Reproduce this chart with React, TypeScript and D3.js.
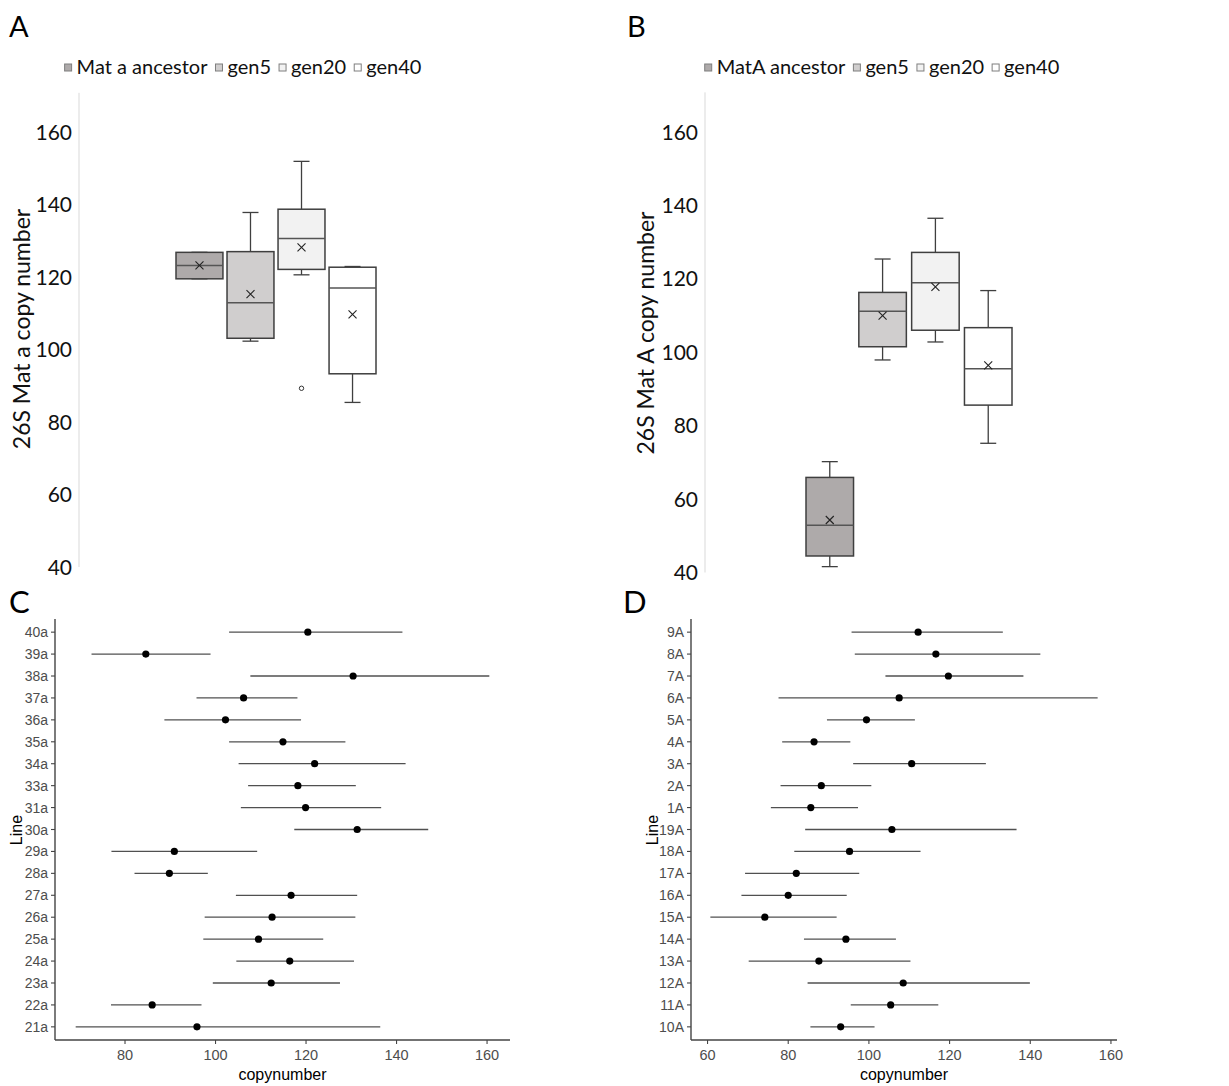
import React, { useEffect, useRef } from 'react';
import * as d3 from 'd3';

// box plot panels (A and B)
const series = ['ancestor', 'gen5', 'gen20', 'gen40'];
const legendA = ['Mat a ancestor', 'gen5', 'gen20', 'gen40'];
const legendB = ['MatA ancestor', 'gen5', 'gen20', 'gen40'];
const fills = ['#aeaaaa', '#d0cece', '#f2f2f2', '#ffffff'];
const boxTicks = [40, 60, 80, 100, 120, 140, 160];

const minA = [119.5, 102.3, 120.6, 85.4];
const q1A = [119.5, 103.1, 122.1, 93.3];
const medA = [123.2, 112.9, 130.6, 117.0];
const q3A = [126.8, 127.0, 138.7, 122.7];
const maxA = [126.8, 137.8, 151.9, 122.9];
const meanA = [123.2, 115.3, 128.2, 109.7];
const outlierA = [null, null, 89.3, null];

const minB = [41.6, 97.9, 102.8, 75.2];
const q1B = [44.5, 101.5, 106.0, 85.6];
const medB = [52.9, 111.2, 118.9, 95.5];
const q3B = [65.9, 116.3, 127.2, 106.7];
const maxB = [70.2, 125.4, 136.5, 116.8];
const meanB = [54.3, 110.0, 117.8, 96.4];
const outlierB = [null, null, null, null];

// point-range panels (C and D)
const linesC = ['40a', '39a', '38a', '37a', '36a', '35a', '34a', '33a', '31a', '30a', '29a', '28a', '27a', '26a', '25a', '24a', '23a', '22a', '21a'];
const meanC = [120.4, 84.6, 130.4, 106.2, 102.2, 114.9, 121.9, 118.2, 119.9, 131.3, 90.9, 89.8, 116.7, 112.5, 109.5, 116.4, 112.3, 86.0, 95.9];
const lowC = [103.0, 72.6, 107.7, 95.8, 88.7, 103.0, 105.1, 107.2, 105.6, 117.4, 77.0, 82.1, 104.5, 97.6, 97.3, 104.6, 99.4, 76.9, 69.1];
const highC = [141.3, 98.9, 160.5, 118.1, 118.9, 128.7, 142.0, 131.0, 136.6, 147.0, 109.2, 98.3, 131.3, 130.9, 123.8, 130.6, 127.5, 96.9, 136.4];
const ticksC = [80, 100, 120, 140, 160];

const linesD = ['9A', '8A', '7A', '6A', '5A', '4A', '3A', '2A', '1A', '19A', '18A', '17A', '16A', '15A', '14A', '13A', '12A', '11A', '10A'];
const meanD = [112.2, 116.6, 119.7, 107.5, 99.4, 86.4, 110.6, 88.2, 85.6, 105.7, 95.2, 82.0, 80.0, 74.2, 94.3, 87.6, 108.5, 105.4, 93.0];
const lowD = [95.7, 96.5, 104.1, 77.6, 89.6, 78.5, 96.1, 78.1, 75.7, 84.2, 81.5, 69.3, 68.4, 60.7, 83.9, 70.2, 84.8, 95.5, 85.5];
const highD = [133.2, 142.5, 138.3, 156.7, 111.4, 95.4, 129.0, 100.6, 97.3, 136.6, 112.8, 97.6, 94.5, 92.0, 106.7, 110.3, 139.9, 117.2, 101.4];
const ticksD = [60, 80, 100, 120, 140, 160];

const excelFont = 'Lato, "Open Sans", sans-serif';
const ggFont = '"Liberation Sans", Arial, sans-serif';

type Sel = d3.Selection<SVGSVGElement, unknown, null, undefined>;

type BoxOpts = {
  letter: string;
  letterX: number;
  axisX: number;
  yRange: [number, number];
  xRange: [number, number];
  pad: number;
  legend: string[];
  legendCenter: number;
  yLabel: string;
  yLabelX: number;
  yLabelY: number;
  mins: number[];
  q1: number[];
  med: number[];
  q3: number[];
  maxs: number[];
  means: number[];
  outliers: (number | null)[];
};

function drawBoxPanel(svg: Sel, o: BoxOpts) {
  const g = svg.append('g');
  const y = d3.scaleLinear().domain([40, 160]).range(o.yRange);
  const x = d3.scaleBand<string>().domain(series).range(o.xRange).paddingInner(o.pad);
  const bw = x.bandwidth();

  g.append('text').attr('x', o.letterX).attr('y', 37).attr('font-family', excelFont)
    .attr('font-size', 29).attr('fill', '#000').text(o.letter);

  // legend, laid out from measured text widths
  const lg = g.append('g');
  let cursor = 0;
  o.legend.forEach((lab, i) => {
    lg.append('rect').attr('x', cursor).attr('y', -10).attr('width', 7).attr('height', 7)
      .attr('fill', fills[i]).attr('stroke', '#7f7f7f').attr('stroke-width', 1);
    cursor += 12;
    const t = lg.append('text').attr('x', cursor).attr('y', 0).attr('font-family', excelFont)
      .attr('font-size', 20).attr('fill', '#111').text(lab);
    const w = (t.node() as SVGTextElement).getComputedTextLength();
    cursor += w + (i < o.legend.length - 1 ? 8 : 0);
  });
  lg.attr('transform', `translate(${o.legendCenter - cursor / 2},74)`);

  // axis
  g.append('line').attr('x1', o.axisX).attr('x2', o.axisX)
    .attr('y1', y(170.8)).attr('y2', y(40)).attr('stroke', '#d9d9d9').attr('stroke-width', 1);
  g.selectAll('.ytick').data(boxTicks).enter().append('text')
    .attr('x', o.axisX - 7).attr('y', (d) => y(d)).attr('dy', '0.36em')
    .attr('text-anchor', 'end').attr('font-family', excelFont).attr('font-size', 21)
    .attr('fill', '#111').text((d) => d);
  g.append('text')
    .attr('transform', `translate(${o.yLabelX},${o.yLabelY}) rotate(-90)`)
    .attr('text-anchor', 'middle').attr('dy', '0.35em').attr('font-family', excelFont)
    .attr('font-size', 23).attr('fill', '#111').text(o.yLabel);

  series.forEach((s, i) => {
    const cx = (x(s) as number) + bw / 2;
    const stroke = '#3f3f3f';
    // whiskers
    g.append('line').attr('x1', cx).attr('x2', cx).attr('y1', y(o.maxs[i])).attr('y2', y(o.q3[i]))
      .attr('stroke', stroke).attr('stroke-width', 1.3);
    g.append('line').attr('x1', cx).attr('x2', cx).attr('y1', y(o.q1[i])).attr('y2', y(o.mins[i]))
      .attr('stroke', stroke).attr('stroke-width', 1.3);
    [o.maxs[i], o.mins[i]].forEach((v) => {
      g.append('line').attr('x1', cx - 8).attr('x2', cx + 8).attr('y1', y(v)).attr('y2', y(v))
        .attr('stroke', stroke).attr('stroke-width', 1.3);
    });
    g.append('rect').attr('x', cx - bw / 2).attr('width', bw)
      .attr('y', y(o.q3[i])).attr('height', y(o.q1[i]) - y(o.q3[i]))
      .attr('fill', fills[i]).attr('stroke', stroke).attr('stroke-width', 1.5);
    g.append('line').attr('x1', cx - bw / 2).attr('x2', cx + bw / 2)
      .attr('y1', y(o.med[i])).attr('y2', y(o.med[i]))
      .attr('stroke', '#555').attr('stroke-width', 1.5);
    const my = y(o.means[i]);
    g.append('path').attr('d', `M${cx - 4},${my - 4}L${cx + 4},${my + 4}M${cx - 4},${my + 4}L${cx + 4},${my - 4}`)
      .attr('stroke', '#222').attr('stroke-width', 1.1);
    const out = o.outliers[i];
    if (out !== null) {
      g.append('circle').attr('cx', cx).attr('cy', y(out)).attr('r', 2.2)
        .attr('fill', '#fff').attr('stroke', '#333').attr('stroke-width', 1);
    }
  });
}

type RangeOpts = {
  letter: string;
  letterX: number;
  xRange: [number, number];
  lines: string[];
  means: number[];
  lows: number[];
  highs: number[];
  ticks: number[];
  titleX: number;
};

function drawRangePanel(svg: Sel, o: RangeOpts) {
  const g = svg.append('g');
  const lo = d3.min(o.lows) as number;
  const hi = d3.max(o.highs) as number;
  const ex = (hi - lo) * 0.05;
  const x = d3.scaleLinear().domain([lo - ex, hi + ex]).range(o.xRange);
  const y = d3.scalePoint<string>().domain(o.lines).range([619, 1040]).padding(0.6);
  const left = o.xRange[0];
  const bottom = 1040;

  g.append('text').attr('x', o.letterX).attr('y', 613).attr('font-family', excelFont)
    .attr('font-size', 31).attr('fill', '#000').text(o.letter);

  // axes
  g.append('line').attr('x1', left).attr('x2', left).attr('y1', 619).attr('y2', bottom)
    .attr('stroke', '#444').attr('stroke-width', 1.4);
  g.append('line').attr('x1', left).attr('x2', o.xRange[1]).attr('y1', bottom).attr('y2', bottom)
    .attr('stroke', '#444').attr('stroke-width', 1.4);

  o.lines.forEach((l) => {
    const yy = y(l) as number;
    g.append('line').attr('x1', left - 4).attr('x2', left).attr('y1', yy).attr('y2', yy)
      .attr('stroke', '#444').attr('stroke-width', 1.1);
    g.append('text').attr('x', left - 7).attr('y', yy).attr('dy', '0.36em').attr('text-anchor', 'end')
      .attr('font-family', ggFont).attr('font-size', 14).attr('fill', '#4d4d4d').text(l);
  });
  o.ticks.forEach((t) => {
    g.append('line').attr('x1', x(t)).attr('x2', x(t)).attr('y1', bottom).attr('y2', bottom + 4)
      .attr('stroke', '#444').attr('stroke-width', 1.1);
    g.append('text').attr('x', x(t)).attr('y', bottom + 15).attr('dy', '0.36em').attr('text-anchor', 'middle')
      .attr('font-family', ggFont).attr('font-size', 14.5).attr('fill', '#4d4d4d').text(t);
  });
  g.append('text').attr('x', (o.xRange[0] + o.xRange[1]) / 2).attr('y', 1080)
    .attr('text-anchor', 'middle').attr('font-family', ggFont).attr('font-size', 16)
    .attr('fill', '#000').text('copynumber');
  g.append('text').attr('transform', `translate(${o.titleX},830) rotate(-90)`)
    .attr('text-anchor', 'middle').attr('dy', '0.35em').attr('font-family', ggFont)
    .attr('font-size', 16).attr('fill', '#000').text('Line');

  o.lines.forEach((l, i) => {
    const yy = y(l) as number;
    g.append('line').attr('x1', x(o.lows[i])).attr('x2', x(o.highs[i])).attr('y1', yy).attr('y2', yy)
      .attr('stroke', '#505050').attr('stroke-width', 1.3);
    g.append('circle').attr('cx', x(o.means[i])).attr('cy', yy).attr('r', 3.6).attr('fill', '#000');
  });
}

const App: React.FC = () => {
  const svgRef = useRef<SVGSVGElement | null>(null);

  useEffect(() => {
    document.body.style.margin = '0';
    const svg = d3.select(svgRef.current as SVGSVGElement);
    svg.selectAll('*').remove();

    drawBoxPanel(svg, {
      letter: 'A', letterX: 9, axisX: 79, yRange: [567, 132], xRange: [176, 376], pad: 0.08,
      legend: legendA, legendCenter: 243, yLabel: '26S Mat a copy number', yLabelX: 22, yLabelY: 329,
      mins: minA, q1: q1A, med: medA, q3: q3A, maxs: maxA, means: meanA, outliers: outlierA,
    });
    drawBoxPanel(svg, {
      letter: 'B', letterX: 627, axisX: 705, yRange: [572.5, 132], xRange: [806, 1012], pad: 0.1,
      legend: legendB, legendCenter: 882, yLabel: '26S Mat A copy number', yLabelX: 646, yLabelY: 333,
      mins: minB, q1: q1B, med: medB, q3: q3B, maxs: maxB, means: meanB, outliers: outlierB,
    });
    drawRangePanel(svg, {
      letter: 'C', letterX: 9, xRange: [55, 510], lines: linesC, means: meanC, lows: lowC, highs: highC,
      ticks: ticksC, titleX: 16,
    });
    drawRangePanel(svg, {
      letter: 'D', letterX: 623, xRange: [691, 1117], lines: linesD, means: meanD, lows: lowD, highs: highD,
      ticks: ticksD, titleX: 652,
    });
  }, []);

  return <svg ref={svgRef} width={1229} height={1086} style={{ display: 'block', background: '#fff' }} />;
};

export default App;
